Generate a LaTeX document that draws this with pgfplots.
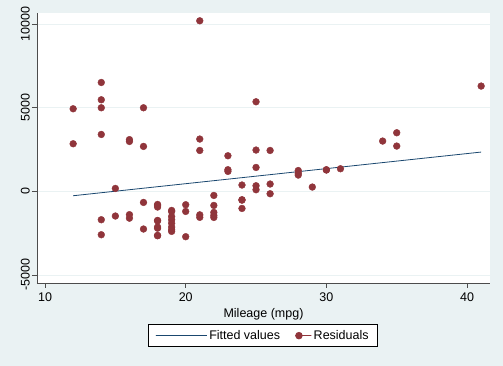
\documentclass[border=0pt]{standalone}
\usepackage{graphicx}
\usepackage{pgfplots}
\pgfplotsset{compat=1.18}
\usepackage{fontspec}
\setmainfont{Liberation Sans}
\usetikzlibrary{backgrounds}
\definecolor{bgblue}{RGB}{234,242,243}
\definecolor{stnavy}{RGB}{26,71,111}
\definecolor{stmaroon}{RGB}{144,53,59}
\begin{document}
\fontsize{12.5}{15}\selectfont
\begin{tikzpicture}
\begin{axis}[
  name=ax,
  scale only axis,
  width=453pt, height=270pt,
  xmin=9.43, xmax=41.63,
  ymin=-5478, ymax=10676,
  axis x line*=bottom, axis y line*=left,
  axis line style={black!70, line width=0.8pt},
  axis background/.style={fill=white},
  xtick={10,20,30,40},
  ytick={-5000,0,5000,10000},
  scaled y ticks=false,
  tick align=outside,
  major tick length=5pt,
  tick style={black!70, line width=0.8pt},
  ymajorgrids,
  grid style={bgblue, line width=0.8pt},
  /pgf/number format/assume math mode=true,
  /pgf/number format/1000 sep={},
  ticklabel style={font=\fontsize{12.5}{15}\selectfont},
  yticklabel={\rotatebox{90}{\pgfmathprintnumber{\tick}}},
  yticklabel style={anchor=east, inner sep=2pt},
  xlabel={Mileage (mpg)},
  xlabel style={font=\fontsize{12.5}{15}\selectfont, yshift=1pt},
  legend columns=2,
  legend style={at={(0.499,-0.195)}, anchor=center, draw=black, line width=0.6pt, fill=white,
    font=\fontsize{12.5}{15}\selectfont, inner xsep=7pt, inner ysep=3.5pt,
    /tikz/every even column/.append style={column sep=13pt}},
]
\addplot[stnavy, line width=0.8pt,
  legend image code/.code={\path (0pt,0pt) rectangle (51pt,0pt); \draw[stnavy, line width=0.8pt] (0pt,0pt) -- (47pt,0pt);}]
  coordinates {(12,-257) (41,2356)};
\addlegendentry{Fitted values}
\addplot[only marks, mark=*, mark size=3.4pt, stmaroon, mark options={draw=stmaroon, fill=stmaroon},
  legend image code/.code={\path (0pt,0pt) rectangle (16pt,0pt); \fill[stmaroon] (3.5pt,0pt) circle (3.4pt);}]
  table[row sep=\\] {
x y\\
12 4946\\ 12 2853\\
14 6519\\ 14 5484\\ 14 5006\\ 14 3409\\ 14 -1693\\ 14 -2590\\
15 180\\ 15 -1471\\
16 3100\\ 16 2990\\ 16 -1390\\ 16 -1600\\
17 5006\\ 17 2693\\ 17 -658\\ 17 -2250\\
18 -778\\ 18 -850\\ 18 -933\\ 18 -1735\\ 18 -1760\\ 18 -2130\\ 18 -2200\\ 18 -2631\\ 18 -2650\\
19 -1136\\ 19 -1200\\ 19 -1500\\ 19 -1700\\ 19 -1900\\ 19 -2130\\ 19 -2300\\ 19 -2390\\
20 -796\\ 20 -1196\\ 20 -2709\\
21 10209\\ 21 3134\\ 21 2452\\ 21 -1400\\ 21 -1550\\
22 -239\\ 22 -837\\ 22 -1256\\ 22 -1435\\ 22 -1555\\
23 2135\\ 23 1300\\ 23 1200\\
24 383\\ 24 -496\\ 24 -520\\ 24 -1017\\
25 5365\\ 25 2476\\ 25 1435\\ 25 341\\ 25 102\\
26 2452\\ 26 443\\ 26 -138\\
28 1250\\ 28 1100\\ 28 980\\
29 263\\
30 1280\\ 30 1300\\
31 1358\\
34 3014\\
35 3511\\ 35 2715\\
41 6304\\
};
\addlegendentry{Residuals}
\end{axis}
\begin{scope}[on background layer]
\fill[bgblue] ([xshift=-37pt,yshift=-83pt]ax.south west) rectangle ([xshift=13pt,yshift=13pt]ax.north east);
\end{scope}
\useasboundingbox ([xshift=-37pt,yshift=-83pt]ax.south west) rectangle ([xshift=13pt,yshift=13pt]ax.north east);
\end{tikzpicture}
\end{document}
